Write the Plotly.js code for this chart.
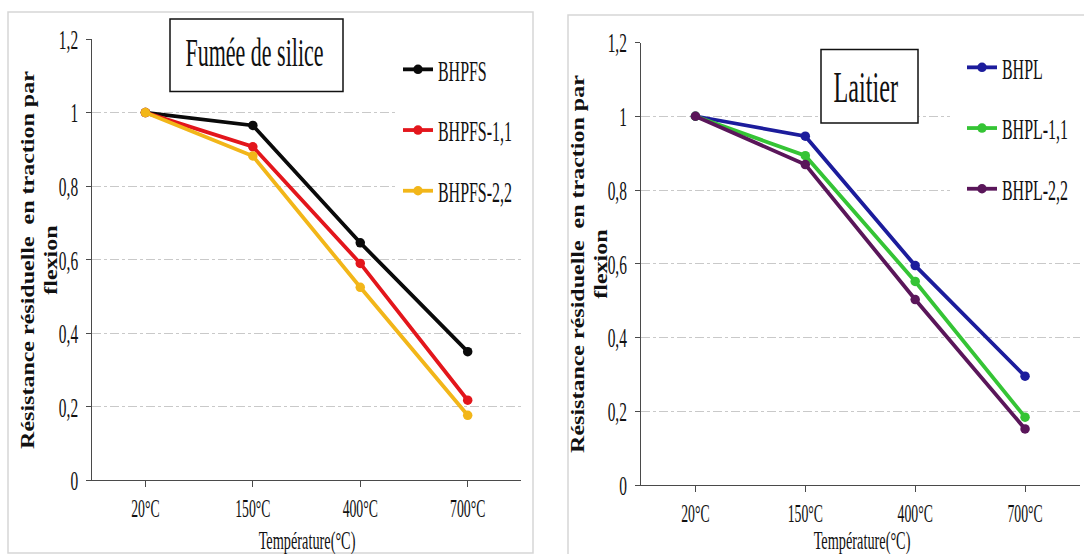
<!DOCTYPE html>
<html>
<head>
<meta charset="utf-8">
<script src="https://cdn.plot.ly/plotly-3.0.1.min.js"></script>
<style>
html,body{margin:0;padding:0;background:#ffffff;}
#chart{width:1084px;height:554px;}
</style>
</head>
<body>
<div id="chart"></div>
<script>
// ---------- data ----------
const temperatures = ['20°C', '150°C', '400°C', '700°C'];

const namesFS = ['BHPFS', 'BHPFS-1,1', 'BHPFS-2,2'];
const bhpfs   = [1.000, 0.965, 0.646, 0.350];
const bhpfs11 = [1.000, 0.907, 0.590, 0.218];
const bhpfs22 = [1.000, 0.882, 0.525, 0.177];

const namesL = ['BHPL', 'BHPL-1,1', 'BHPL-2,2'];
const bhpl   = [1.000, 0.946, 0.595, 0.295];
const bhpl11 = [1.000, 0.893, 0.552, 0.184];
const bhpl22 = [1.000, 0.869, 0.503, 0.152];

const yTickVals = [0, 0.2, 0.4, 0.6, 0.8, 1, 1.2];
const yTickText = ['0', '0,2', '0,4', '0,6', '0,8', '1', '1,2'];

const titleLeft = 'Fumée de silice';
const titleRight = 'Laitier';
const xTitle = 'Température(°C)';
const yTitleLine1 = 'Résistance résiduelle  en traction par';
const yTitleLine2 = 'flexion';

// ---------- styling ----------
const FONT = 'Liberation Serif, Times New Roman, serif';
const W = 1084, H = 554;
const px = v => v / W;
const py = v => 1 - v / H;

const colorsFS = ['#0a0a0a', '#e3161c', '#f2b619'];
const colorsL  = ['#1c1c9c', '#35c435', '#5a165a'];

function mkTrace(name, y, color, xa, ya, legend) {
  return {
    type: 'scatter', mode: 'lines+markers', name: name,
    x: temperatures, y: y, xaxis: xa, yaxis: ya,
    legend: legend, legendgroup: name,
    line: {color: color, width: 3.8},
    marker: {color: color, size: 9.5, symbol: 'circle'},
    hoverinfo: 'skip'
  };
}

const seriesFS = [bhpfs, bhpfs11, bhpfs22];
const seriesL = [bhpl, bhpl11, bhpl22];
const traces = [];
seriesFS.forEach((s, i) => traces.push(mkTrace(namesFS[i], s, colorsFS[i], 'x', 'y', 'legend')));
seriesL.forEach((s, i) => traces.push(mkTrace(namesL[i], s, colorsL[i], 'x2', 'y2', 'legend2')));

function xAxis(domain, anchor) {
  return {
    domain: domain, anchor: anchor, type: 'category',
    range: [-0.5, 3.5], showgrid: false, zeroline: false,
    showline: true, linecolor: '#4a4a4a', linewidth: 1,
    ticks: 'outside', ticklen: 6, tickcolor: '#4a4a4a', tickwidth: 1,
    ticklabelstandoff: 0,
    tickfont: {family: FONT, size: 25, color: '#111111'},
    fixedrange: true
  };
}
function yAxis(domain, anchor) {
  return {
    domain: domain, anchor: anchor, range: [0, 1.2],
    tickmode: 'array', tickvals: yTickVals, ticktext: yTickText,
    showgrid: true, gridcolor: '#c9c9c9', gridwidth: 1, griddash: 'dashdot',
    zeroline: false, showline: true, linecolor: '#4a4a4a', linewidth: 1,
    ticks: 'outside', ticklen: 5, tickcolor: '#4a4a4a', tickwidth: 1,
    ticklabelstandoff: 2,
    tickfont: {family: FONT, size: 28, color: '#111111'},
    fixedrange: true
  };
}

function rect(x0, y0, x1, y1, line, fill, layer) {
  return {type: 'rect', xref: 'paper', yref: 'paper',
    x0: px(x0), x1: px(x1), y0: py(y1), y1: py(y0),
    line: line, fillcolor: fill, layer: layer};
}

const legendCommon = {
  bgcolor: 'rgba(0,0,0,0)', borderwidth: 0,
  font: {family: FONT, size: 29, color: '#111111'},
  traceorder: 'grouped', tracegroupgap: 20,
  itemwidth: 30, xanchor: 'left', yanchor: 'top'
};

const layout = {
  width: W, height: H,
  margin: {l: 0, r: 0, t: 0, b: 0, autoexpand: false},
  paper_bgcolor: '#ffffff', plot_bgcolor: 'rgba(0,0,0,0)',
  showlegend: true,
  xaxis: xAxis([px(91.7), px(521.4)], 'y'),
  yaxis: yAxis([py(480.4), py(39)], 'x'),
  xaxis2: xAxis([px(640.5), px(1080)], 'y2'),
  yaxis2: yAxis([py(485), py(42.5)], 'x2'),
  legend: Object.assign({}, legendCommon, {x: px(398), y: py(44)}),
  legend2: Object.assign({}, legendCommon, {x: px(962), y: py(42)}),
  shapes: [
    rect(8, 12, 533, 553, {color: '#d6d6d6', width: 1.5}, 'rgba(0,0,0,0)', 'below'),
    rect(568, 15, 1095, 565, {color: '#d6d6d6', width: 1.5}, 'rgba(0,0,0,0)', 'below'),
    rect(398, 26, 530, 232, {width: 0}, '#ffffff', 'above'),
    rect(950, 26, 1083, 232, {width: 0}, '#ffffff', 'above'),
    rect(170, 19, 343, 91.5, {color: '#111111', width: 1.5}, '#ffffff', 'above'),
    rect(821, 49.5, 918, 123, {color: '#111111', width: 1.5}, '#ffffff', 'above')
  ],
  annotations: [
    {text: titleLeft, xref: 'paper', yref: 'paper', x: px(254), y: py(52),
     xanchor: 'center', yanchor: 'middle', showarrow: false,
     font: {family: FONT, size: 40, color: '#111111'}},
    {text: titleRight, xref: 'paper', yref: 'paper', x: px(866), y: py(87),
     xanchor: 'center', yanchor: 'middle', showarrow: false,
     font: {family: FONT, size: 44, color: '#111111'}},
    {text: xTitle, xref: 'paper', yref: 'paper', x: px(307), y: py(540),
     xanchor: 'center', yanchor: 'middle', showarrow: false,
     font: {family: FONT, size: 26, color: '#111111'}},
    {text: xTitle, xref: 'paper', yref: 'paper', x: px(861.5), y: py(540),
     xanchor: 'center', yanchor: 'middle', showarrow: false,
     font: {family: FONT, size: 26, color: '#111111'}},
    {text: yTitleLine1 + '<br>' + yTitleLine2, xref: 'paper', yref: 'paper',
     x: px(39), y: py(260), xanchor: 'center', yanchor: 'middle', showarrow: false,
     textangle: -90, font: {family: FONT, size: 24, color: '#111111', weight: 'bold'}},
    {text: yTitleLine1 + '<br>' + yTitleLine2, xref: 'paper', yref: 'paper',
     x: px(589), y: py(264), xanchor: 'center', yanchor: 'middle', showarrow: false,
     textangle: -90, font: {family: FONT, size: 24, color: '#111111', weight: 'bold'}}
  ]
};

// The reference typeface is a tall, condensed Times: narrow each text horizontally.
function condense(gd) {
  gd.querySelectorAll('svg text').forEach(t => {
    if (!t.textContent.trim()) return;
    const orig = t.getAttribute('data-orig-tf') !== null ? t.getAttribute('data-orig-tf') : (t.getAttribute('transform') || '');
    t.setAttribute('data-orig-tf', orig);
    const bb = t.getBBox();
    const m = t.getCTM();
    let tf;
    if (m && Math.abs(m.b) > 0.5) {
      const cy = bb.y + bb.height / 2;
      tf = `${orig} translate(0,${cy}) scale(1,0.75) translate(0,${-cy})`;
    } else {
      const anchor = t.getAttribute('text-anchor') || 'start';
      let ax = bb.x;
      if (anchor === 'middle') ax = bb.x + bb.width / 2;
      else if (anchor === 'end') ax = bb.x + bb.width;
      tf = `${orig} translate(${ax},0) scale(0.55,1) translate(${-ax},0)`;
    }
    t.setAttribute('transform', tf.trim());
  });
}

Plotly.newPlot('chart', traces, layout, {displayModeBar: false, staticPlot: true, responsive: false})
  .then(gd => condense(gd));
</script>
</body>
</html>
